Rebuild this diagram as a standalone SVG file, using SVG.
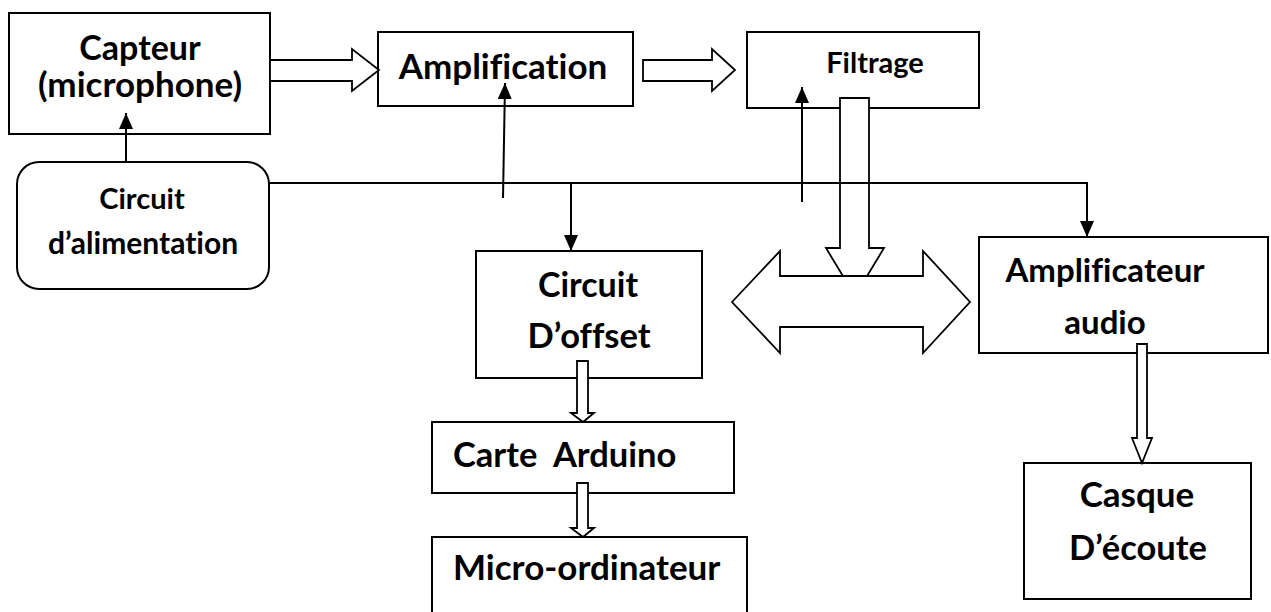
<svg xmlns="http://www.w3.org/2000/svg" width="1271" height="612" viewBox="0 0 1271 612">
<style>
.box{fill:#fff;stroke:#000;stroke-width:2}
.t{font-family:Lato,"Liberation Sans",sans-serif;font-weight:bold;fill:#000;font-variant-ligatures:none;font-feature-settings:"liga" 0}
.c{text-anchor:middle}
.hollow{fill:#fff;stroke:#000;stroke-width:1.8;stroke-linejoin:miter}
.ln{fill:none;stroke:#000;stroke-width:2}
</style>
<defs>
<marker id="ah" viewBox="0 0 16 14" refX="16" refY="7" markerWidth="16" markerHeight="14" markerUnits="userSpaceOnUse" orient="auto">
<path d="M0,0 L16,7 L0,14 Z" fill="#000"/>
</marker>
</defs>
<rect width="1271" height="612" fill="#fff"/>
<g id="capteur">
<rect class="box" x="9" y="13" width="261" height="121"/>
<text class="t c" x="140" y="60" font-size="34">Capteur</text>
<text class="t c" x="140" y="97" font-size="35">(microphone)</text>
</g>
<g id="alimentation">
<rect class="box" x="17" y="162" width="252" height="127" rx="22" ry="22"/>
<text class="t c" x="142" y="209" font-size="29">Circuit</text>
<text class="t c" x="143" y="254" font-size="30">d’alimentation</text>
</g>
<g id="amplification">
<rect class="box" x="378" y="32" width="255" height="74"/>
<text class="t c" x="503" y="79" font-size="35">Amplification</text>
</g>
<g id="filtrage">
<rect class="box" x="747" y="32" width="232" height="76"/>
<text class="t c" x="875" y="73" font-size="29">Filtrage</text>
</g>
<g id="offset">
<rect class="box" x="476" y="251" width="226" height="127"/>
<text class="t c" x="588" y="297" font-size="34">Circuit</text>
<text class="t c" x="589" y="348" font-size="34.5">D’offset</text>
</g>
<g id="ampli-audio">
<rect class="box" x="979" y="237" width="289" height="116"/>
<text class="t c" x="1105" y="282" font-size="33">Amplificateur</text>
<text class="t c" x="1105" y="334" font-size="33">audio</text>
</g>
<g id="arduino">
<rect class="box" x="432" y="422" width="302" height="71"/>
<text class="t" x="453" y="467" font-size="34.5" xml:space="preserve">Carte  Arduino</text>
</g>
<g id="micro">
<rect class="box" x="432" y="537" width="315" height="80"/>
<text class="t" x="453" y="580" font-size="35">Micro-ordinateur</text>
</g>
<g id="casque">
<rect class="box" x="1024" y="463" width="227" height="136"/>
<text class="t c" x="1137" y="507" font-size="35">Casque</text>
<text class="t c" x="1138" y="560" font-size="34.5">D’écoute</text>
</g>
<g id="connectors">
<polygon class="hollow" points="270,60 352,60 352,49 379,70 352,91 352,81 270,81"/>
<polygon class="hollow" points="643,60 712,60 712,49 735,70 712,91 712,81 643,81"/>
<polygon class="hollow" points="840,98 869,98 869,248 884,248 855,296 826,248 840,248"/>
<polygon class="hollow" points="732,302 780,251 780,276 923,276 923,251 970,302 923,353 923,327 780,327 780,353"/>
<polygon class="hollow" points="577,361 588,361 588,413 594,413 583,422 571,413 577,413"/>
<polygon class="hollow" points="577,483 588,483 588,528 594,528 583,537 571,528 577,528"/>
<polygon class="hollow" points="1137,344 1147,344 1147,438 1152,438 1142,463 1132,438 1137,438"/>
<line class="ln" x1="126" y1="162" x2="126" y2="113" marker-end="url(#ah)"/>
<polyline class="ln" points="269,183 1087,183 1087,237" marker-end="url(#ah)"/>
<line class="ln" x1="571" y1="183" x2="571" y2="251" marker-end="url(#ah)"/>
<line class="ln" x1="503" y1="198" x2="505" y2="83" marker-end="url(#ah)"/>
<line class="ln" x1="802" y1="202" x2="802" y2="87" marker-end="url(#ah)"/>
</g>
</svg>
